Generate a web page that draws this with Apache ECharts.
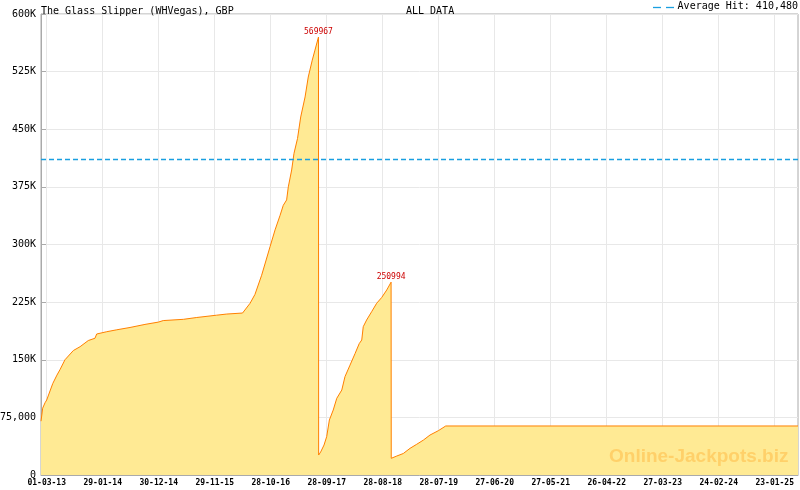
<!DOCTYPE html>
<html>
<head>
<meta charset="utf-8">
<script src="https://cdn.jsdelivr.net/npm/echarts@6/dist/echarts.min.js"></script>
<style>html,body{margin:0;padding:0;background:#fff}#c{width:800px;height:490px}</style>
</head>
<body>
<div id="c"></div>
<script>
// Days counted from 01-03-13 (day 0)
const dayOffsets = [-34, -24, -10, 0, 36, 61, 79, 109, 159, 199, 248, 288, 298, 358, 418, 497, 586, 666, 695, 815, 895, 1014, 1074, 1168,
  1213, 1242, 1282, 1332, 1362, 1392, 1411, 1431, 1441, 1461, 1475, 1496, 1515, 1541, 1560, 1584, 1600, 1621,
  1622, 1634, 1654, 1670, 1686, 1709, 1730, 1760, 1779, 1809, 1839, 1864, 1879, 1888, 1908, 1938, 1968, 1998, 2028, 2054,
  2055, 2088, 2127, 2167, 2207, 2247, 2286, 2336, 2380, 4481];
const jackpotValues = [70000, 87000, 94000, 97600, 119000, 130000, 137000, 150000, 162000, 167000, 175000, 178000, 183500, 186500, 189000, 192000, 196000, 199000, 201000, 202600, 205000, 208000, 209500, 210800,
  223500, 235000, 260000, 297000, 319000, 338000, 351000, 358000, 375000, 397000, 418700, 438000, 466000, 492000, 518000, 540000, 553000, 569967,
  26000, 30000, 39000, 50000, 71600, 84600, 99800, 110600, 128000, 143000, 158000, 171000, 175700, 193000, 201700, 212500, 223500, 231000, 240800, 250994,
  21700, 24700, 28000, 34700, 40000, 45500, 52000, 57700, 63800, 63800];
const peakDays = [1621, 2054];
const peakValues = [569967, 250994];
const averageHit = 410480;
const xTickDays = [0, 334, 668, 1002, 1336, 1670, 2004, 2338, 2672, 3006, 3340, 3674, 4008, 4342];
const xTickLabels = ['01-03-13', '29-01-14', '30-12-14', '29-11-15', '28-10-16', '28-09-17', '28-08-18', '28-07-19', '27-06-20', '27-05-21', '26-04-22', '27-03-23', '24-02-24', '23-01-25'];
const yTickValues = [0, 75000, 150000, 225000, 300000, 375000, 450000, 525000, 600000];
const yTickLabels = ['0', '75,000', '150K', '225K', '300K', '375K', '450K', '525K', '600K'];
const titleText = 'The Glass Slipper (WHVegas), GBP';
const subText = 'ALL DATA';
const legendText = 'Average Hit: 410,480';
const watermark = 'Online-Jackpots.biz';

const X_MIN = -34, X_MAX = 4481;
const minorStep = 334 / 7;
const minorDays = [];
for (let k = 0; k * minorStep <= X_MAX; k++) { if (k % 7 !== 0) minorDays.push(+(k * minorStep).toFixed(3)); }

const mono = 'DejaVu Sans Mono';
const avgColor = '#1a9fe0';
const seriesData = dayOffsets.map((d, i) => [d, jackpotValues[i]]);

const chart = echarts.init(document.getElementById('c'), null, {renderer: 'canvas'});
chart.setOption({
  animation: false,
  backgroundColor: '#fff',
  grid: {left: 41, right: 2, top: 14, bottom: 15, show: true, borderColor: '#aaa', borderWidth: 1,
    containLabel: false, outerBoundsMode: 'none'},
  title: [
    {text: titleText, left: 36, top: 1, textStyle: {fontFamily: mono, fontSize: 10, fontWeight: 'normal', color: '#000'}},
    {text: subText, left: 401, top: 1, textStyle: {fontFamily: mono, fontSize: 10, fontWeight: 'normal', color: '#000'}}
  ],
  xAxis: [
    {
      type: 'value', min: X_MIN, max: X_MAX, position: 'bottom',
      axisLine: {show: true, onZero: false, lineStyle: {color: '#aaa', width: 1}},
      axisTick: {show: true, inside: true, length: 5, customValues: xTickDays, lineStyle: {color: '#aaa'}},
      axisLabel: {show: true, customValues: xTickDays, margin: 4, fontFamily: mono, fontSize: 8, fontWeight: 'bold', color: '#000',
        hideOverlap: false,
        formatter: v => { const i = xTickDays.indexOf(v); return i >= 0 ? xTickLabels[i] : ''; }},
      splitLine: {show: true, lineStyle: {color: '#e8e8e8', width: 1}}
    },
    {
      type: 'value', min: X_MIN, max: X_MAX, position: 'bottom',
      axisLine: {show: false, onZero: false},
      axisTick: {show: true, inside: true, length: 3, customValues: minorDays, lineStyle: {color: '#aaa'}},
      axisLabel: {show: false},
      splitLine: {show: false}
    }
  ],
  yAxis: {
    type: 'value', min: 0, max: 600000, interval: 75000,
    axisLine: {show: true, onZero: false, lineStyle: {color: '#aaa', width: 1}},
    axisTick: {show: true, inside: true, length: 5, lineStyle: {color: '#aaa'}},
    axisLabel: {margin: 5, fontFamily: mono, fontSize: 10, color: '#000',
      formatter: v => { const i = yTickValues.indexOf(v); return i >= 0 ? yTickLabels[i] : ''; }},
    splitLine: {show: true, lineStyle: {color: '#e8e8e8', width: 1}}
  },
  series: [{
    type: 'line', xAxisIndex: 0, data: seriesData, symbol: 'none', showSymbol: false,
    lineStyle: {color: '#ff8000', width: 1},
    areaStyle: {color: '#ffea94', opacity: 1},
    z: 2,
    markLine: {
      silent: true, symbol: ['none', 'none'], label: {show: false},
      lineStyle: {color: avgColor, type: [5, 3], width: 1.4, opacity: 1},
      emphasis: {disabled: true},
      data: [{yAxis: averageHit, lineStyle: {color: avgColor, type: [5, 3], width: 1.4}}]
    },
    markPoint: {
      symbol: 'circle', symbolSize: 0,
      label: {show: true, position: 'top', distance: 1, color: '#cc0000', fontFamily: mono, fontSize: 8, formatter: p => String(p.value)},
      data: peakDays.map((d, i) => ({coord: [d, peakValues[i]], value: peakValues[i]}))
    }
  }],
  graphic: [
    {type: 'line', shape: {x1: 653, y1: 7.5, x2: 661, y2: 7.5}, style: {stroke: avgColor, lineWidth: 1.3}},
    {type: 'line', shape: {x1: 666, y1: 7.5, x2: 674, y2: 7.5}, style: {stroke: avgColor, lineWidth: 1.3}},
    {type: 'text', right: 2, top: 1, style: {text: legendText, font: '10px "DejaVu Sans Mono"', fill: '#000'}},
    {type: 'text', left: 609, top: 447, z: 10, style: {text: watermark, font: 'bold 19px "Liberation Sans"', fill: 'rgba(255,185,70,0.55)'}}
  ]
});
</script>
</body>
</html>
